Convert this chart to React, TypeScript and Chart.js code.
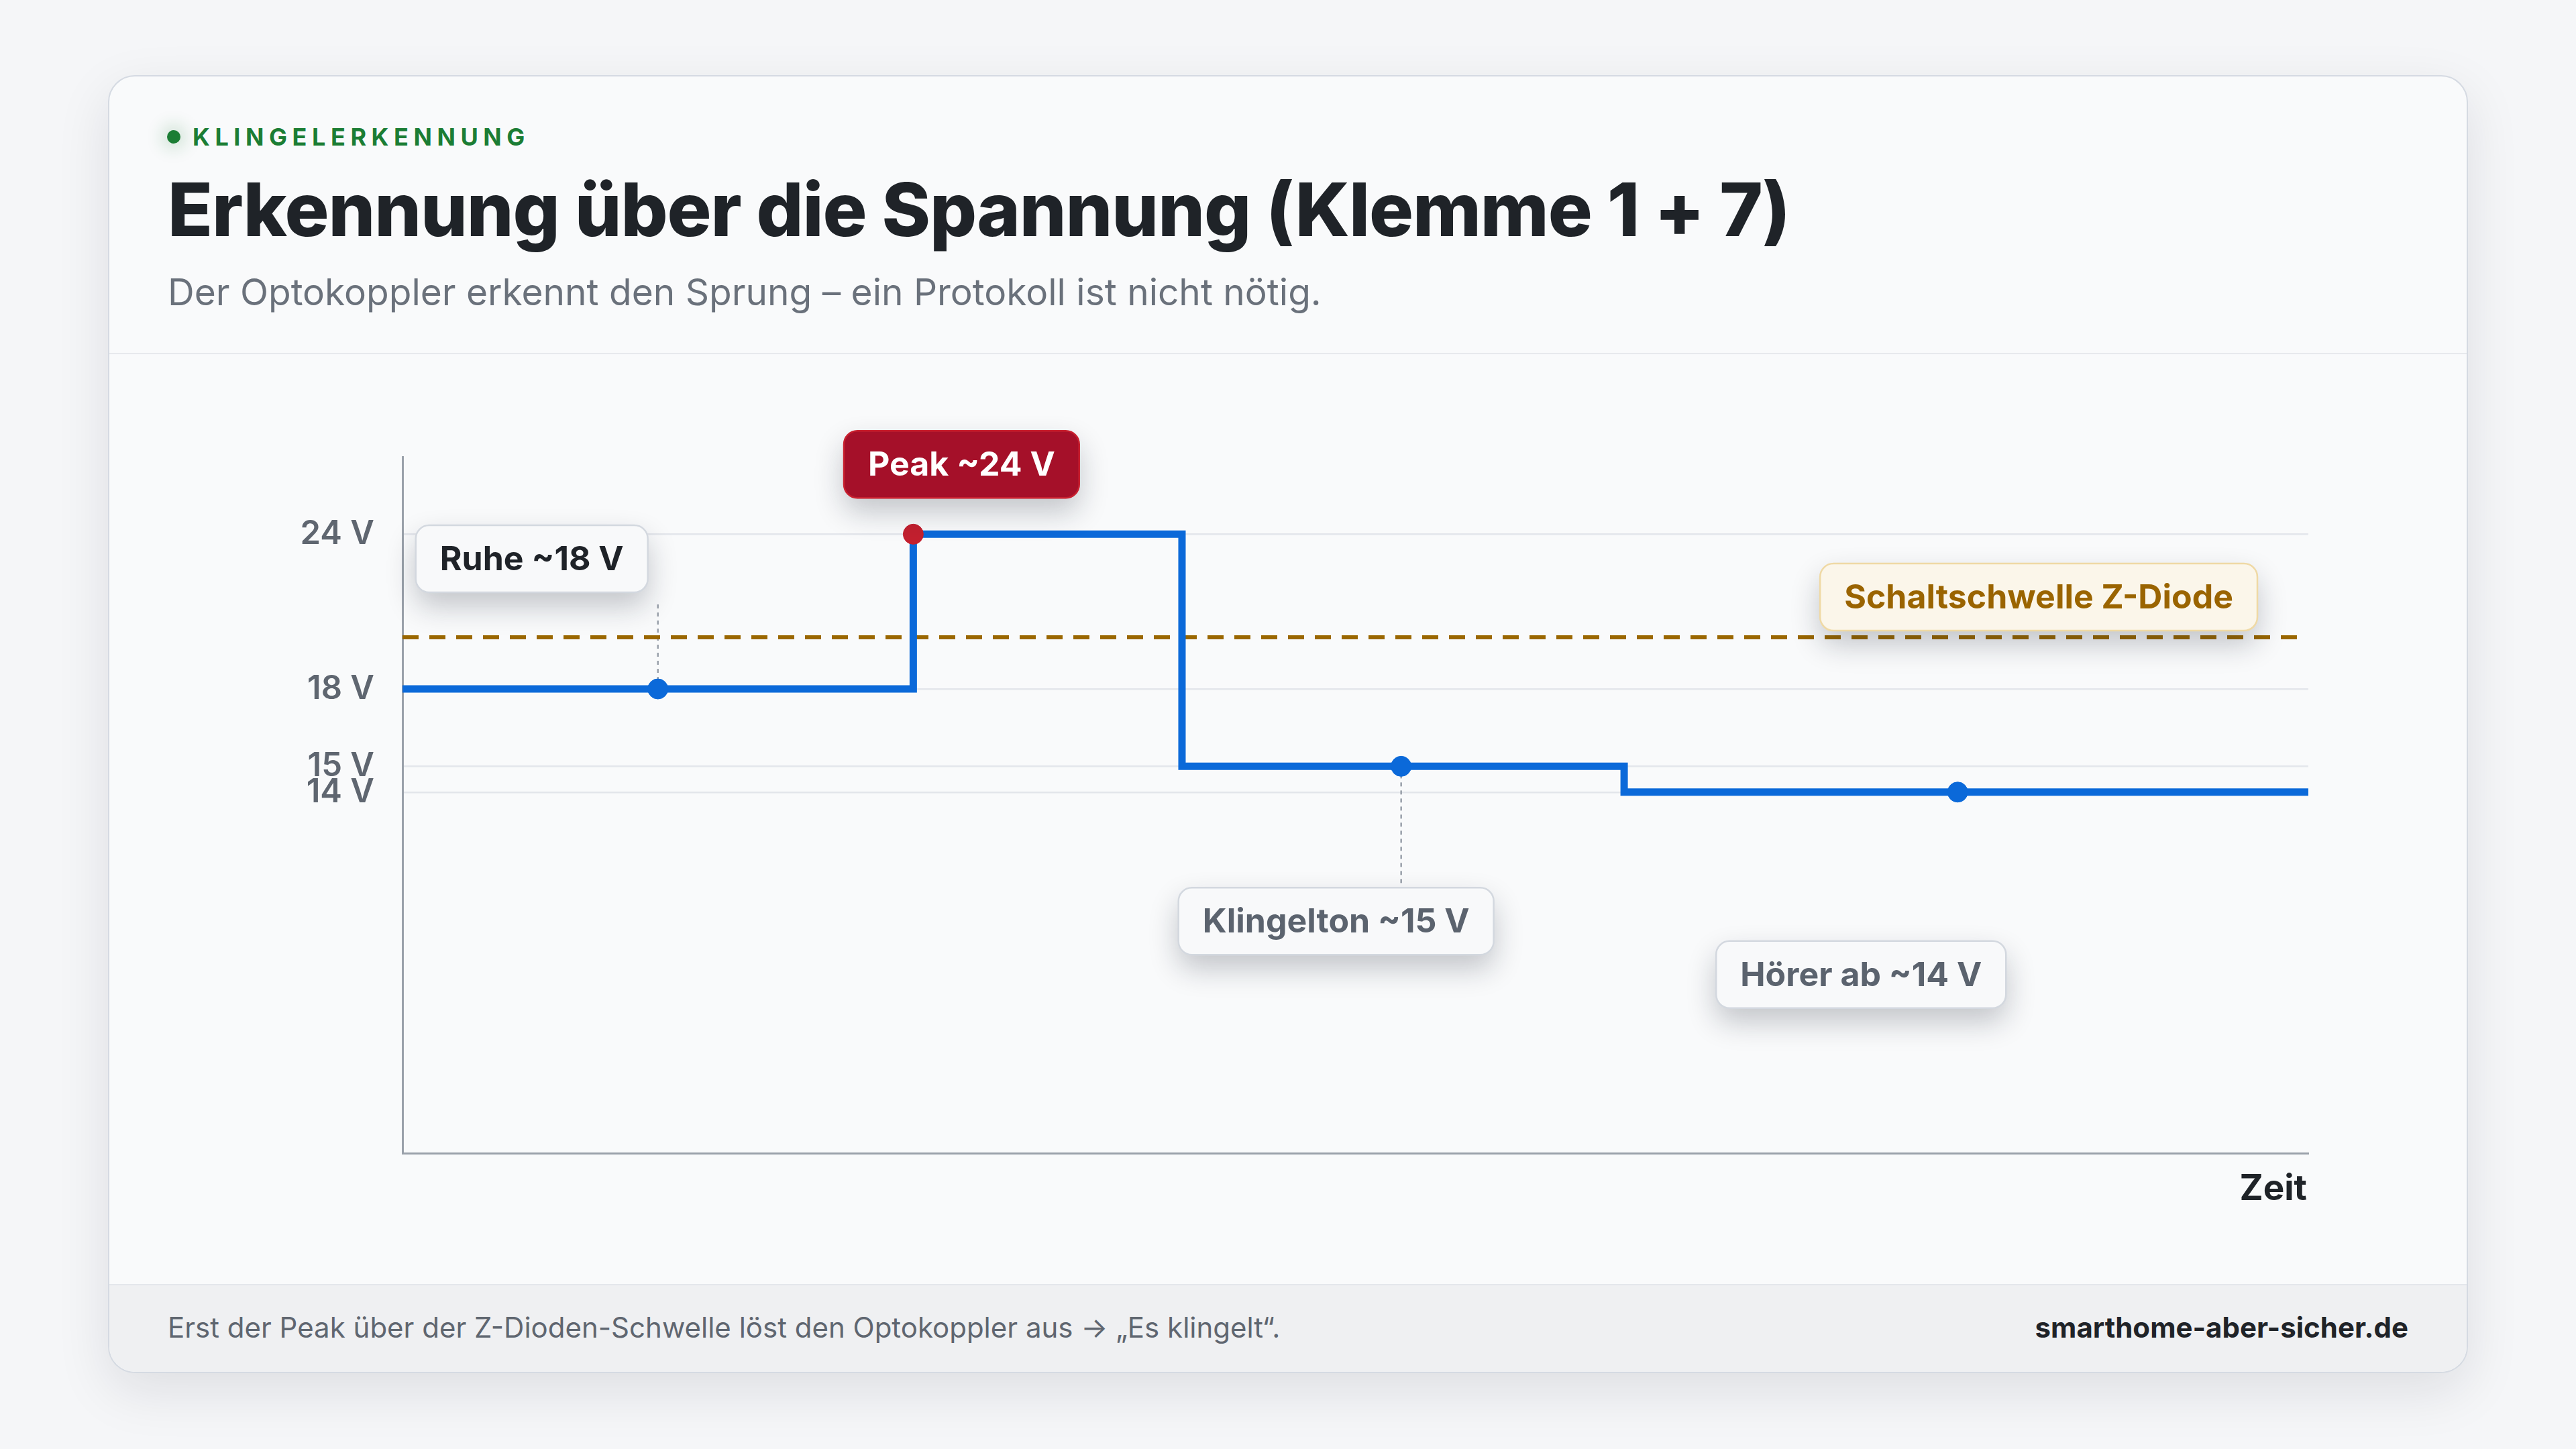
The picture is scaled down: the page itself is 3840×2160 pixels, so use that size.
import React, { useEffect, useRef } from "react";
import { Chart, registerables } from "chart.js";

Chart.register(...registerables);

// ---------- data ----------
const stepX = [0, 26.8, 40.9, 64.1, 100];
const stepV = [18, 24, 15, 14, 14];
const markerX = [13.4, 26.8, 52.4, 81.6];
const markerV = [18, 24, 15, 14];
const markerKind = ["normal", "peak", "normal", "normal"];
const thresholdX = [0, 99.4];
const thresholdV = [20, 20];
const yTicks = [14, 15, 18, 24];
const yUnit = " V";
const yMin = 0;
const yMax = 27;
const xMin = 0;
const xMax = 100;
const calloutTexts = ["Ruhe ~18 V", "Peak ~24 V", "Klingelton ~15 V", "Hörer ab ~14 V"];
const thresholdText = "Schaltschwelle Z-Diode";
const xAxisTitle = "Zeit";

// ---------- styles / layout (not data) ----------
const FONT = "Inter, 'Noto Sans', sans-serif";
const BLUE = "#0b69d9";
const RED = "#c3202f";
const GOLD = "#9a6700";

const STYLES: Record<string, { bg: string; border: string; text: string }> = {
  dark: { bg: "#f8f9fa", border: "#d3d8df", text: "#1f2328" },
  peak: { bg: "#a51029", border: "#c8202f", text: "#ffffff" },
  muted: { bg: "#f8f9fa", border: "#d3d8df", text: "#5b636e" },
  warn: { bg: "#fbf6ea", border: "#efd9a5", text: "#9a6400" },
};

const CALLOUT_LAYOUT = [
  { dx: -188, dy: -194, style: "dark", leader: "up" },
  { dx: 72, dy: -104, style: "peak", leader: null },
  { dx: -97, dy: 231, style: "muted", leader: "down" },
  { dx: -144, dy: 272, style: "muted", leader: null },
];
const BOX_H = 100;
const BOX_PAD = 36;
const BOX_R = 20;

function drawBox(ctx: CanvasRenderingContext2D, cx: number, cy: number, text: string, st: { bg: string; border: string; text: string }, alignRight?: number) {
  ctx.save();
  ctx.font = `700 50px ${FONT}`;
  const w = ctx.measureText(text).width + BOX_PAD * 2;
  let left = cx - w / 2;
  if (alignRight !== undefined) left = alignRight - w;
  const top = cy - BOX_H / 2;
  ctx.shadowColor = "rgba(15,23,42,0.24)";
  ctx.shadowBlur = 44;
  ctx.shadowOffsetY = 20;
  ctx.fillStyle = st.bg;
  ctx.beginPath();
  (ctx as any).roundRect(left, top, w, BOX_H, BOX_R);
  ctx.fill();
  ctx.shadowColor = "transparent";
  ctx.shadowBlur = 0;
  ctx.shadowOffsetY = 0;
  ctx.lineWidth = 2.5;
  ctx.strokeStyle = st.border;
  ctx.stroke();
  ctx.fillStyle = st.text;
  ctx.textAlign = "center";
  ctx.textBaseline = "middle";
  ctx.fillText(text, left + w / 2, top + BOX_H / 2 + 2);
  ctx.restore();
}

const calloutPlugin = {
  id: "callouts",
  beforeDatasetsDraw(chart: any) {
    const { ctx, scales } = chart;
    const x = scales.x, y = scales.y;
    CALLOUT_LAYOUT.forEach((c, i) => {
      if (!c.leader) return;
      const px = x.getPixelForValue(markerX[i]);
      const py = y.getPixelForValue(markerV[i]);
      const cy = py + c.dy;
      ctx.save();
      ctx.setLineDash([6, 6]);
      ctx.strokeStyle = "#9aa1ab";
      ctx.lineWidth = 2.5;
      ctx.beginPath();
      if (c.leader === "up") {
        ctx.moveTo(px, py);
        ctx.lineTo(px, cy + BOX_H / 2 + 17);
      } else {
        ctx.moveTo(px, py);
        ctx.lineTo(px, cy - BOX_H / 2);
      }
      ctx.stroke();
      ctx.restore();
    });
  },
  afterDatasetsDraw(chart: any) {
    const { ctx, scales, chartArea } = chart;
    const x = scales.x, y = scales.y;
    const ty = y.getPixelForValue(thresholdV[1]);
    drawBox(ctx, 0, ty - 60, thresholdText, STYLES.warn, chartArea.right - 76);
    CALLOUT_LAYOUT.forEach((c, i) => {
      const px = x.getPixelForValue(markerX[i]);
      const py = y.getPixelForValue(markerV[i]);
      drawBox(ctx, px + c.dx, py + c.dy, calloutTexts[i], STYLES[c.style]);
    });
    ctx.save();
    ctx.font = `700 53px ${FONT}`;
    ctx.fillStyle = "#1f2328";
    ctx.textAlign = "right";
    ctx.textBaseline = "middle";
    ctx.fillText(xAxisTitle, chartArea.right - 2, chartArea.bottom + 54);
    ctx.restore();
  },
};

export default function App() {
  const ref = useRef<HTMLCanvasElement>(null);

  useEffect(() => {
    document.body.style.margin = "0";
    const canvas = ref.current!;
    const chart = new Chart(canvas, {
      type: "scatter",
      data: {
        datasets: [
          {
            label: "Messpunkte",
            data: markerX.map((v, i) => ({ x: v, y: markerV[i] })),
            showLine: false,
            pointRadius: 15,
            pointHoverRadius: 15,
            pointBorderWidth: 1,
            backgroundColor: markerKind.map((k) => (k === "peak" ? RED : BLUE)),
            borderColor: markerKind.map((k) => (k === "peak" ? RED : BLUE)),
          } as any,
          {
            label: "Spannung",
            data: stepX.map((v, i) => ({ x: v, y: stepV[i] })),
            showLine: true,
            stepped: "before",
            borderColor: BLUE,
            borderWidth: 11,
            borderCapStyle: "round",
            borderJoinStyle: "miter",
            pointRadius: 0,
            fill: false,
          } as any,
          {
            label: "Schwelle",
            data: thresholdX.map((v, i) => ({ x: v, y: thresholdV[i] })),
            showLine: true,
            borderColor: GOLD,
            borderWidth: 6,
            borderDash: [24, 16],
            pointRadius: 0,
            fill: false,
          } as any,
        ],
      },
      options: {
        animation: false,
        responsive: false,
        devicePixelRatio: 1,
        layout: { padding: { top: 61, right: 59, left: 0, bottom: 0 } },
        plugins: {
          legend: { display: false },
          tooltip: { enabled: false },
        },
        scales: {
          x: {
            type: "linear",
            min: xMin,
            max: xMax,
            grid: { display: false, drawTicks: false },
            border: { display: true, color: "#9aa1aa", width: 3 },
            ticks: { display: false },
            afterFit(scale: any) {
              scale.height = 101;
              scale.paddingLeft = 0;
              scale.paddingRight = 0;
            },
          },
          y: {
            type: "linear",
            min: yMin,
            max: yMax,
            afterBuildTicks(scale: any) {
              scale.ticks = yTicks.map((v) => ({ value: v }));
            },
            afterFit(scale: any) {
              scale.width = 160;
              scale.paddingTop = 0;
              scale.paddingBottom = 0;
            },
            grid: { color: "#e3e6eb", lineWidth: 2.5, drawTicks: false },
            border: { display: true, color: "#9aa1aa", width: 3 },
            ticks: {
              autoSkip: false,
              padding: 42,
              color: "#5f6670",
              font: { family: FONT, size: 49, weight: "600" },
              callback: (v: any) => `${v}${yUnit}`,
            },
          },
        },
      } as any,
      plugins: [calloutPlugin],
    });
    return () => chart.destroy();
  }, []);

  const abs = (s: React.CSSProperties): React.CSSProperties => ({ position: "absolute", whiteSpace: "nowrap", lineHeight: 1, ...s });

  return (
    <div style={{ position: "absolute", left: 0, top: 0, width: 3840, height: 2160, background: "#f5f6f8", overflow: "hidden", fontFamily: FONT }}>
      <div
        style={{
          position: "absolute",
          left: 161,
          top: 112,
          width: 3518,
          height: 1935,
          boxSizing: "border-box",
          border: "2px solid #d5dae2",
          borderRadius: 40,
          background: "#f9fafb",
          boxShadow: "0 26px 80px rgba(15,23,42,0.10)",
          overflow: "hidden",
        }}
      >
        <div style={{ position: "absolute", left: 0, right: 0, top: 412, height: 2, background: "#e7e9ed" }} />
        <div style={{ position: "absolute", left: 0, right: 0, top: 1800, bottom: 0, background: "#eff0f2", borderTop: "2px solid #e4e7eb" }} />
      </div>

      <div style={{ position: "absolute", left: 249, top: 194, width: 20, height: 20, borderRadius: 10, background: "#1b7d34", boxShadow: "0 0 24px 8px rgba(27,125,52,0.18)" }} />
      <div style={abs({ left: 287, top: 186, fontSize: 36, fontWeight: 700, letterSpacing: "0.21em", color: "#1b7d34" })}>KLINGELERKENNUNG</div>
      <div style={abs({ left: 250, top: 257, fontSize: 110, fontWeight: 800, letterSpacing: "-0.01em", color: "#1f2328" })}>
        Erkennung über die Spannung (Klemme 1 + 7)
      </div>
      <div style={abs({ left: 250, top: 408, fontSize: 55, fontWeight: 400, color: "#6a717b" })}>
        Der Optokoppler erkennt den Sprung – ein Protokoll ist nicht nötig.
      </div>

      <canvas ref={ref} width={3060} height={1200} style={{ position: "absolute", left: 440, top: 620, width: 3060, height: 1200 }} />

      <div style={abs({ left: 250, top: 1958, fontSize: 42, fontWeight: 400, color: "#5f6670" })}>
        Erst der Peak über der Z-Dioden-Schwelle löst den Optokoppler aus → „Es klingelt“.
      </div>
      <div style={abs({ right: 250, top: 1958, fontSize: 42, fontWeight: 700, color: "#1f2328" })}>smarthome-aber-sicher.de</div>
    </div>
  );
}
